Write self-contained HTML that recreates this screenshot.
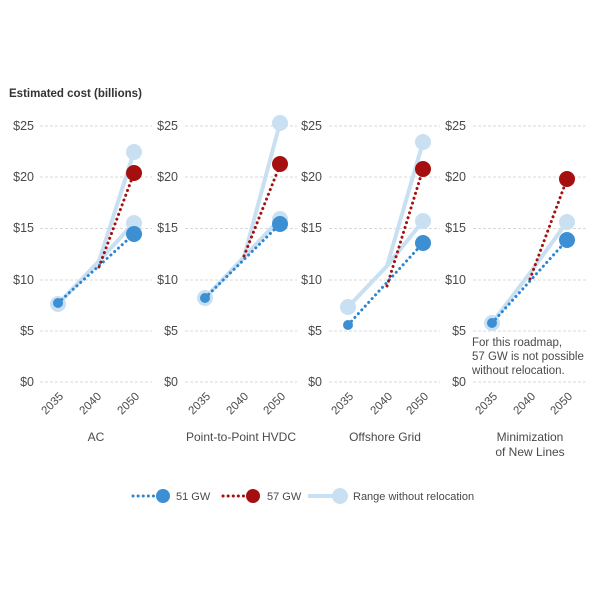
<!DOCTYPE html>
<html><head><style>body{margin:0;background:#fff}svg{display:block}text{font-family:"Liberation Sans",sans-serif;fill:#4a4a4a}</style></head><body>
<svg width="600" height="600" viewBox="0 0 600 600">
<text x="9" y="97" font-size="11.5" font-weight="bold" style="fill:#333">Estimated cost (billions)</text>
<g id="grid" stroke="#d9d9d9" stroke-dasharray="3,2" stroke-width="1">
<line x1="40" x2="152" y1="126" y2="126"/><line x1="40" x2="152" y1="177" y2="177"/><line x1="40" x2="152" y1="228.5" y2="228.5"/><line x1="40" x2="152" y1="280" y2="280"/><line x1="40" x2="152" y1="331" y2="331"/><line x1="40" x2="152" y1="382" y2="382"/>
<line x1="185" x2="297" y1="126" y2="126"/><line x1="185" x2="297" y1="177" y2="177"/><line x1="185" x2="297" y1="228.5" y2="228.5"/><line x1="185" x2="297" y1="280" y2="280"/><line x1="185" x2="297" y1="331" y2="331"/><line x1="185" x2="297" y1="382" y2="382"/>
<line x1="329" x2="440" y1="126" y2="126"/><line x1="329" x2="440" y1="177" y2="177"/><line x1="329" x2="440" y1="228.5" y2="228.5"/><line x1="329" x2="440" y1="280" y2="280"/><line x1="329" x2="440" y1="331" y2="331"/><line x1="329" x2="440" y1="382" y2="382"/>
<line x1="473" x2="586" y1="126" y2="126"/><line x1="473" x2="586" y1="177" y2="177"/><line x1="473" x2="586" y1="228.5" y2="228.5"/><line x1="473" x2="586" y1="280" y2="280"/><line x1="473" x2="586" y1="331" y2="331"/><line x1="473" x2="586" y1="382" y2="382"/>
</g>
<g font-size="12.5" text-anchor="end">
<text x="34" y="130">$25</text><text x="34" y="181">$20</text><text x="34" y="232">$15</text><text x="34" y="284">$10</text><text x="34" y="335">$5</text><text x="34" y="386">$0</text>
<text x="178" y="130">$25</text><text x="178" y="181">$20</text><text x="178" y="232">$15</text><text x="178" y="284">$10</text><text x="178" y="335">$5</text><text x="178" y="386">$0</text>
<text x="322" y="130">$25</text><text x="322" y="181">$20</text><text x="322" y="232">$15</text><text x="322" y="284">$10</text><text x="322" y="335">$5</text><text x="322" y="386">$0</text>
<text x="466" y="130">$25</text><text x="466" y="181">$20</text><text x="466" y="232">$15</text><text x="466" y="284">$10</text><text x="466" y="335">$5</text><text x="466" y="386">$0</text>
</g>
<g font-size="11.5" text-anchor="end">
<text transform="translate(64,397) rotate(-45)">2035</text><text transform="translate(102,397) rotate(-45)">2040</text><text transform="translate(140,397) rotate(-45)">2050</text>
<text transform="translate(211,397) rotate(-45)">2035</text><text transform="translate(249,397) rotate(-45)">2040</text><text transform="translate(286,397) rotate(-45)">2050</text>
<text transform="translate(354,397) rotate(-45)">2035</text><text transform="translate(393,397) rotate(-45)">2040</text><text transform="translate(429,397) rotate(-45)">2050</text>
<text transform="translate(498,397) rotate(-45)">2035</text><text transform="translate(536,397) rotate(-45)">2040</text><text transform="translate(573,397) rotate(-45)">2050</text>
</g>
<g font-size="12" text-anchor="middle">
<text x="96" y="441">AC</text><text x="241" y="441">Point-to-Point HVDC</text><text x="385" y="441">Offshore Grid</text>
<text x="530" y="441">Minimization</text><text x="530" y="456">of New Lines</text>
</g>
<text font-size="11.5" x="472" y="346">For this roadmap,</text>
<text font-size="11.5" x="472" y="360">57 GW is not possible</text>
<text font-size="11.5" x="472" y="374">without relocation.</text>
<g stroke="#c9e0f2" stroke-width="4" fill="none" stroke-linejoin="round">
<polyline points="58,304 99,261 134,152"/><polyline points="99,261 134,223"/>
<polyline points="205,298 244,257 280,123"/><polyline points="244,257 280,219"/>
<polyline points="348,307 387,266 423,142"/><polyline points="387,266 423,221"/>
<polyline points="492,323 530,273 567,222"/>
</g>
<g fill="#c9e0f2">
<circle cx="58" cy="304" r="8"/><circle cx="134" cy="152" r="8"/><circle cx="134" cy="223" r="8"/>
<circle cx="205" cy="298" r="8"/><circle cx="280" cy="123" r="8"/><circle cx="280" cy="219" r="8"/>
<circle cx="348" cy="307" r="8"/><circle cx="423" cy="142" r="8"/><circle cx="423" cy="221" r="8"/>
<circle cx="492" cy="323" r="8"/><circle cx="567" cy="222" r="8"/>
</g>
<g stroke-width="3" stroke-dasharray="0.1,5" stroke-linecap="round" fill="none">
<g stroke="#2e86d0">
<line x1="58" y1="303" x2="134" y2="234"/><line x1="205" y1="298" x2="280" y2="224"/><line x1="348" y1="325" x2="423" y2="243"/><line x1="492" y1="323" x2="567" y2="240"/>
</g>
<g stroke="#a51010">
<line x1="99" y1="267" x2="134" y2="173"/><line x1="244" y1="256" x2="280" y2="165"/><line x1="387" y1="286" x2="423" y2="169"/><line x1="530" y1="279" x2="567" y2="179"/>
</g>
</g>
<g fill="#3d8fd4">
<circle cx="58" cy="303" r="5"/><circle cx="134" cy="234" r="8"/>
<circle cx="205" cy="298" r="5"/><circle cx="280" cy="224" r="8"/>
<circle cx="348" cy="325" r="5"/><circle cx="423" cy="243" r="8"/>
<circle cx="492" cy="323" r="5"/><circle cx="567" cy="240" r="8"/>
</g>
<g fill="#a50f0f">
<circle cx="134" cy="173" r="8"/><circle cx="280" cy="164" r="8"/><circle cx="423" cy="169" r="8"/><circle cx="567" cy="179" r="8"/>
</g>
<line x1="133" y1="496" x2="163" y2="496" stroke="#2e86d0" stroke-width="3" stroke-dasharray="0.1,5" stroke-linecap="round"/>
<circle cx="163" cy="496" r="7" fill="#3d8fd4"/>
<text x="176" y="500" font-size="11">51 GW</text>
<line x1="223" y1="496" x2="253" y2="496" stroke="#a51010" stroke-width="3" stroke-dasharray="0.1,5" stroke-linecap="round"/>
<circle cx="253" cy="496" r="7" fill="#a50f0f"/>
<text x="267" y="500" font-size="11">57 GW</text>
<line x1="308" y1="496" x2="340" y2="496" stroke="#c9e0f2" stroke-width="4"/>
<circle cx="340" cy="496" r="8" fill="#c9e0f2"/>
<text x="353" y="500" font-size="11">Range without relocation</text>
</svg>
</body></html>
